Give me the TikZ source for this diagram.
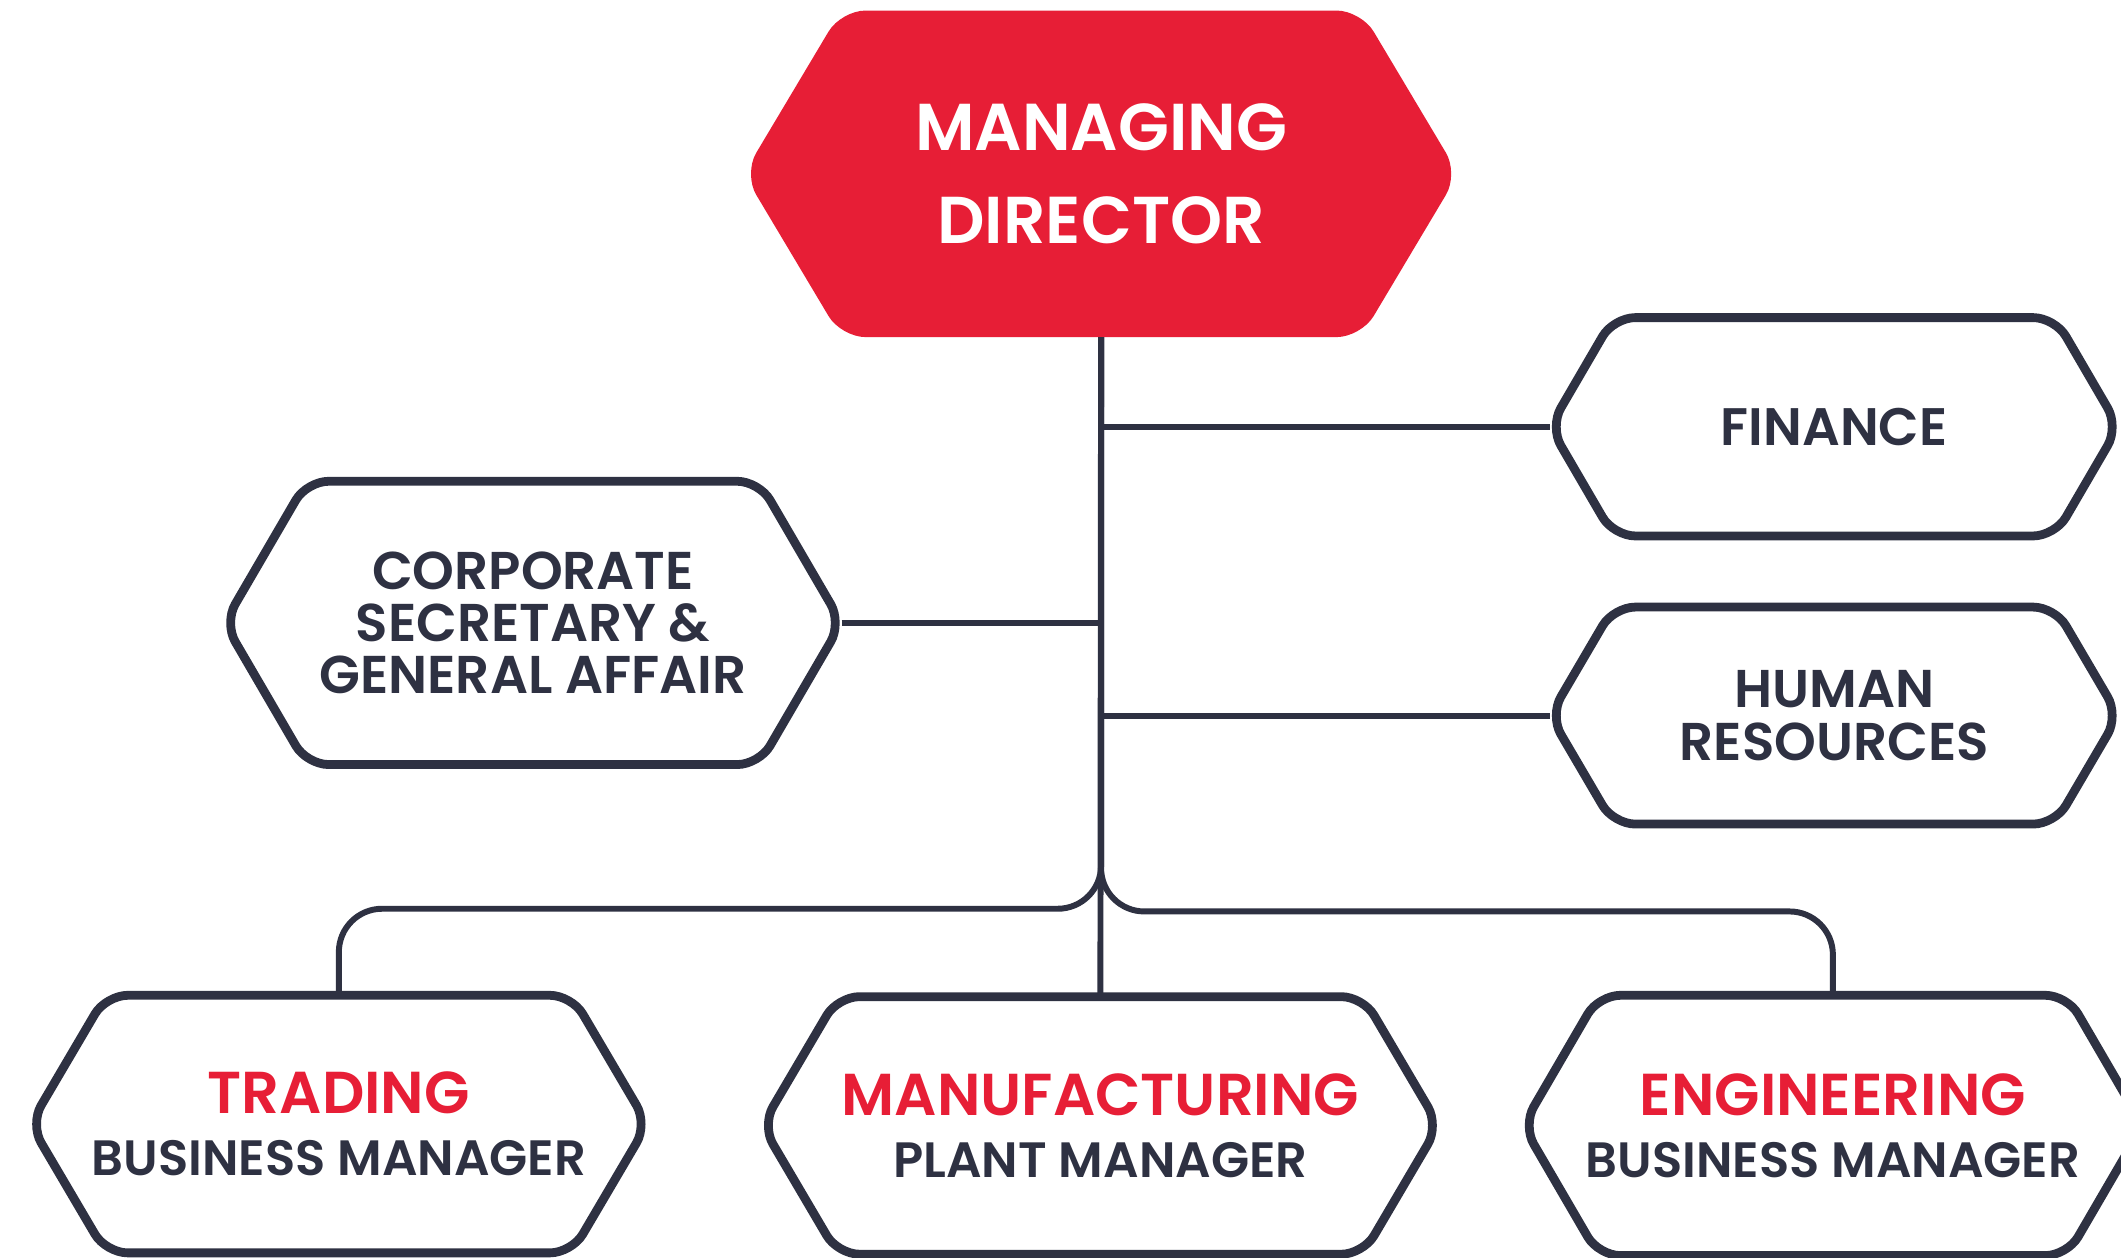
\documentclass[tikz,border=0pt]{standalone}
\usepackage{fontspec}
\newfontfamily\popsemi{Poppins SemiBold}
\usetikzlibrary{backgrounds}
\definecolor{mdred}{HTML}{E71E36}
\definecolor{navy}{HTML}{2E3142}

\begin{document}
\begin{tikzpicture}[x=1pt,y=-1pt,
  unit/.style={inner sep=0pt, align=center, text=navy},
  frame/.style={draw=navy, line width=6.5pt, fill=white, rounded corners=16pt},
  link/.style={draw=navy, line width=4.4pt},
  side/.style={font={\popsemi\fontsize{39.3}{38.5}\selectfont}},
  head/.style={font={\popsemi\fontsize{43.7}{49}\selectfont}}
]
\clip (0,0) rectangle (1568,930);

% units
\node[unit, minimum width=528, minimum height=241, text=white,
  font={\popsemi\fontsize{49}{69}\selectfont}] (md) at (814,128.5) {MANAGING\\DIRECTOR};
\node[unit, side, minimum width=456, minimum height=209] (corp) at (394,460.5) {CORPORATE\\SECRETARY \&\\GENERAL AFFAIR};
\node[unit, side, minimum width=420, minimum height=161, font={\popsemi\fontsize{39}{39}\selectfont}] (fin) at (1356,315.5) {FINANCE};
\node[unit, side, minimum width=420, minimum height=160] (hr) at (1356,529) {HUMAN\\RESOURCES};
\node[unit, head, minimum width=456, minimum height=190] (trad) at (250.5,831) {\textcolor{mdred}{TRADING}\\[-3pt]{\fontsize{36.7}{40}\selectfont BUSINESS MANAGER}};
\node[unit, head, minimum width=500, minimum height=190] (manu) at (813.5,832) {\textcolor{mdred}{MANUFACTURING}\\[-3pt]{\fontsize{36.7}{40}\selectfont PLANT MANAGER}};
\node[unit, head, minimum width=458, minimum height=192] (eng) at (1355,832) {\textcolor{mdred}{ENGINEERING}\\[-3pt]{\fontsize{36.7}{40}\selectfont BUSINESS MANAGER}};

% hexagons
\begin{scope}[on background layer]
\fill[white] (0,0) rectangle (1568,930);
\fill[mdred, rounded corners=18pt] (md.west) -- ([xshift=72]md.north west) -- ([xshift=-72]md.north east) -- (md.east) -- ([xshift=-72]md.south east) -- ([xshift=72]md.south west) -- cycle;
\foreach \n/\d in {corp/61,fin/47,hr/47,trad/56,manu/56,eng/56}
  \draw[frame] (\n.west) -- ([xshift=\d]\n.north west) -- ([xshift=-\d]\n.north east) -- (\n.east) -- ([xshift=-\d]\n.south east) -- ([xshift=\d]\n.south west) -- cycle;
\end{scope}

% connectors
\draw[link] (md.south) -- (manu.north);
\draw[link] (fin.west) -- (fin.west -| md.south);
\draw[link] (hr.west) -- (hr.west -| md.south);
\draw[link] (corp.east) -- (corp.east -| md.south);
\draw[link, rounded corners=32] (md.south) |- ([yshift=64]trad.north) -- (trad.north);
\draw[link, rounded corners=32] (md.south) |- ([yshift=62]eng.north) -- (eng.north);
\end{tikzpicture}
\end{document}
